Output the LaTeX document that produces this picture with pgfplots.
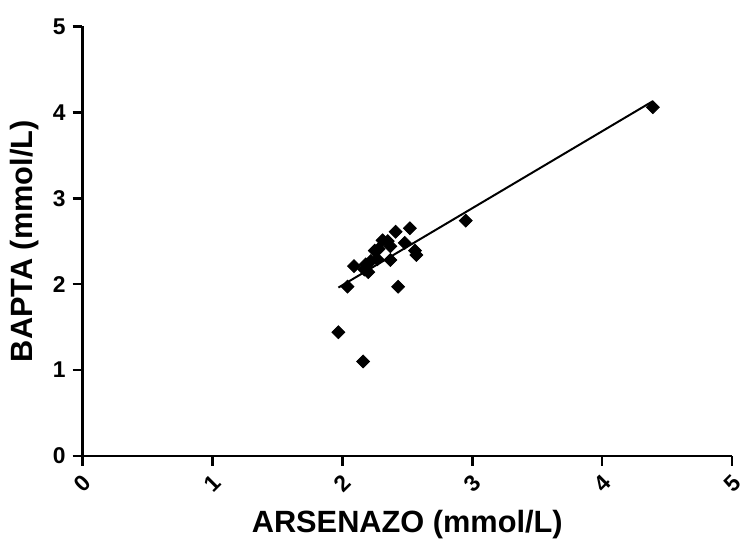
\documentclass[border={2pt 0pt 5pt 6pt}]{standalone}
\usepackage{fontspec}
\setmainfont{Liberation Sans}
\usepackage{pgfplots}
\pgfplotsset{compat=1.18}
\begin{document}
\begin{tikzpicture}[trim axis right]
  \begin{axis}[
    scale only axis,
    width=327.5pt, height=216.5pt,
    xmin=0, xmax=5, ymin=0, ymax=5,
    axis lines=left,
    axis line style={line width=1.3pt, -},
    every tick/.style={line width=1.3pt, black},
    tick align=outside,
    major tick length=5pt,
    xtick={0,...,5}, ytick={0,...,5},
    tick label style={font=\bfseries\fontsize{11.5}{13}\selectfont},
    xticklabel style={rotate=45, anchor=center},
    xticklabel shift=9pt,
    /pgf/number format/assume math mode=true,
    xlabel={\bfseries ARSENAZO (mmol/L)},
    ylabel={\bfseries BAPTA (mmol/L)},
    label style={font=\bfseries\fontsize{15.5}{18}\selectfont},
    xlabel style={yshift=0pt},
    ylabel style={yshift=0pt},
    clip=false,
  ]
    \addplot[only marks, mark=square*, mark size=2.3pt,
      mark options={rotate=45, fill=black, draw=black}] coordinates {
      (2.95,2.74) (2.52,2.65) (2.41,2.61) (2.48,2.48) (2.31,2.51)
      (2.35,2.50) (2.37,2.44) (2.56,2.39) (2.57,2.34) (2.25,2.39)
      (2.28,2.41) (2.09,2.21) (2.18,2.23) (2.22,2.27) (2.27,2.29)
      (2.37,2.28) (2.20,2.14) (2.17,2.17) (2.04,1.97) (2.43,1.97)
      (1.97,1.44) (2.16,1.10) (4.39,4.06)
    };
    \addplot[black, line width=1pt] coordinates {
      (1.97,1.96) (4.39,4.13)
    };
  \end{axis}
\end{tikzpicture}
\end{document}
